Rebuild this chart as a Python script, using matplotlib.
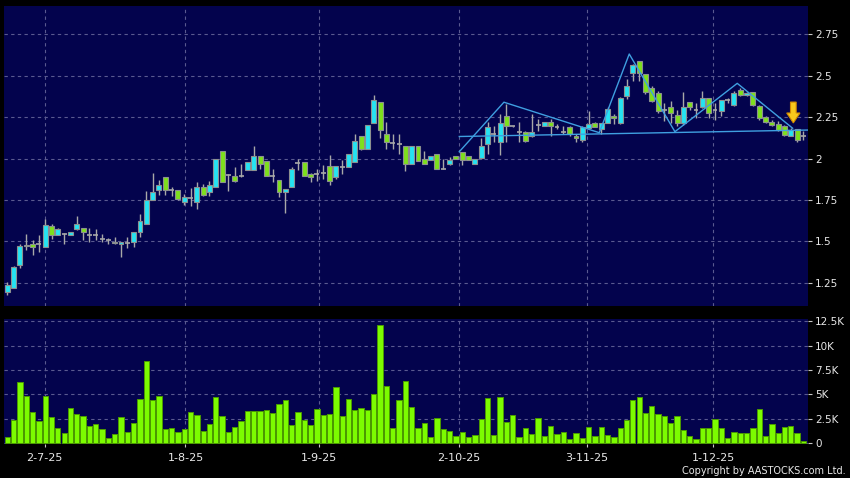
import matplotlib
matplotlib.use("Agg")
import matplotlib.pyplot as plt
from matplotlib.patches import Polygon
import numpy as np

# ---------------- data ----------------
opens = [1.196,1.220,1.357,1.470,1.486,1.485,1.468,1.591,1.542,1.546,1.540,1.573,1.579,1.540,1.542,1.516,1.512,1.498,1.486,1.488,
         1.498,1.558,1.607,1.752,1.813,1.890,1.813,1.811,1.736,1.762,1.736,1.829,1.797,1.831,2.049,1.904,1.894,1.896,1.929,1.929,
         2.014,1.986,1.894,1.874,1.797,1.831,1.976,1.980,1.909,1.909,1.915,1.953,1.892,1.949,1.951,1.980,2.134,2.061,2.213,2.341,
         2.150,2.096,2.091,2.075,1.970,2.077,2.000,1.990,2.030,1.939,1.970,2.014,2.041,2.014,1.970,2.004,2.090,2.150,2.100,2.256,
         2.196,2.164,2.164,2.134,2.204,2.200,2.224,2.194,2.164,2.190,2.136,2.110,2.184,2.214,2.180,2.216,2.260,2.216,2.376,2.520,
         2.590,2.510,2.427,2.397,2.292,2.312,2.262,2.216,2.343,2.292,2.312,2.367,2.292,2.286,2.353,2.327,2.417,2.387,2.400,2.320,
         2.250,2.222,2.210,2.196,2.139,2.180,2.139]
highs = [1.254,1.350,1.486,1.546,1.512,1.540,1.637,1.603,1.580,1.550,1.560,1.651,1.579,1.581,1.573,1.546,1.522,1.530,1.498,1.530,
         1.558,1.667,1.802,1.913,1.869,1.890,1.831,1.811,1.787,1.821,1.858,1.848,1.868,2.000,2.049,1.909,1.949,1.970,1.980,2.075,
         2.014,1.986,1.939,1.874,1.815,1.949,1.996,1.980,1.915,1.939,1.959,2.020,1.953,1.990,2.030,2.152,2.134,2.201,2.386,2.341,
         2.224,2.152,2.152,2.075,2.077,2.077,2.045,2.014,2.030,1.996,2.010,2.014,2.041,2.014,2.000,2.122,2.220,2.200,2.270,2.330,
         2.200,2.220,2.170,2.270,2.240,2.224,2.240,2.210,2.200,2.200,2.150,2.200,2.290,2.220,2.214,2.310,2.270,2.370,2.480,2.570,
         2.590,2.510,2.440,2.410,2.336,2.346,2.296,2.401,2.343,2.336,2.407,2.367,2.336,2.353,2.367,2.407,2.427,2.400,2.400,2.327,
         2.256,2.236,2.226,2.206,2.186,2.180,2.166]
lows = [1.177,1.220,1.341,1.446,1.417,1.435,1.466,1.516,1.540,1.486,1.540,1.567,1.510,1.496,1.512,1.496,1.484,1.486,1.405,1.462,
        1.466,1.526,1.607,1.752,1.780,1.780,1.776,1.750,1.720,1.715,1.695,1.776,1.776,1.831,1.858,1.807,1.858,1.888,1.929,1.929,
        1.939,1.894,1.858,1.766,1.675,1.831,1.929,1.894,1.862,1.868,1.878,1.841,1.878,1.909,1.951,1.980,2.051,2.061,2.213,2.122,
        2.061,2.061,2.030,1.923,1.970,1.988,1.970,1.990,1.939,1.939,1.959,2.000,1.959,1.990,1.970,2.000,2.030,2.100,2.020,2.100,
        2.190,2.100,2.100,2.130,2.170,2.200,2.140,2.180,2.150,2.140,2.100,2.100,2.180,2.190,2.150,2.216,2.210,2.210,2.360,2.470,
        2.470,2.390,2.340,2.275,2.226,2.216,2.196,2.206,2.296,2.246,2.306,2.246,2.236,2.256,2.337,2.321,2.377,2.380,2.317,2.236,
        2.216,2.196,2.166,2.135,2.135,2.098,2.115]
closes = [1.240,1.349,1.470,1.480,1.468,1.485,1.601,1.542,1.577,1.546,1.560,1.607,1.558,1.540,1.542,1.516,1.512,1.488,1.498,1.488,
          1.558,1.621,1.752,1.800,1.843,1.813,1.813,1.756,1.768,1.762,1.829,1.780,1.841,2.000,1.862,1.904,1.864,1.896,1.980,2.014,
          1.970,1.898,1.894,1.801,1.815,1.937,1.976,1.898,1.888,1.909,1.915,1.868,1.953,1.949,2.030,2.108,2.061,2.201,2.352,2.171,
          2.102,2.096,2.091,1.970,2.077,1.988,1.970,2.014,1.939,1.939,1.990,2.000,1.990,1.990,2.000,2.077,2.190,2.150,2.216,2.200,
          2.196,2.164,2.104,2.164,2.204,2.224,2.200,2.194,2.164,2.150,2.124,2.190,2.210,2.194,2.214,2.300,2.244,2.366,2.436,2.564,
          2.520,2.400,2.347,2.286,2.292,2.276,2.216,2.312,2.312,2.292,2.367,2.276,2.292,2.353,2.353,2.397,2.387,2.397,2.327,2.246,
          2.222,2.206,2.175,2.145,2.175,2.110,2.139]
volumes_k = [0.68,2.39,6.25,4.85,3.21,2.25,4.81,2.70,1.54,1.02,3.62,3.00,2.83,1.77,1.98,1.47,0.58,0.99,2.73,1.16,
             2.05,4.50,8.40,4.40,4.88,1.47,1.60,1.13,1.47,3.17,2.94,1.23,1.95,4.74,2.80,1.16,1.71,2.29,3.28,3.31,
             3.31,3.45,3.11,4.06,4.44,1.91,3.21,2.42,1.91,3.52,2.87,3.00,5.77,2.80,4.50,3.45,3.65,3.38,5.02,12.10,
             5.87,1.54,4.44,6.42,3.75,1.60,2.05,0.68,2.63,1.43,1.26,0.78,1.19,0.68,0.85,2.46,4.68,0.85,4.74,2.22,
             2.94,0.68,1.57,0.92,2.59,0.78,1.81,0.96,1.13,0.48,1.02,0.51,1.64,0.78,1.64,0.82,0.65,1.54,2.36,4.47,
             4.71,3.10,3.79,3.00,2.80,2.08,2.83,1.33,0.78,0.44,1.54,1.60,2.49,1.57,0.58,1.19,1.02,1.06,1.54,3.52,
             0.78,1.98,1.06,1.67,1.77,1.06,0.24]

date_labels = ["2-7-25", "1-8-25", "1-9-25", "2-10-25", "3-11-25", "1-12-25"]
date_pos = [5.9, 28.2, 49.4, 71.5, 91.7, 111.7]

price_ticks = [1.25, 1.5, 1.75, 2.0, 2.25, 2.5, 2.75]
price_labels = ["1.25", "1.5", "1.75", "2", "2.25", "2.5", "2.75"]
vol_ticks = [0, 2.5, 5, 7.5, 10, 12.5]
vol_labels = ["0", "2.5K", "5K", "7.5K", "10K", "12.5K"]

# pattern drawing (index, price)
zig_x = [71.53, 78.60, 93.69, 98.43, 105.66, 115.52, 124.29]
zig_y = [2.042, 2.341, 2.157, 2.632, 2.163, 2.455, 2.184]
neck_x = [71.53, 126.7]
neck_y = [2.134, 2.173]
arrow_x = 124.4
arrow_top, arrow_neck, arrow_tip = 2.342, 2.276, 2.216

# ---------------- style ----------------
BG = "#03034d"
GRID = "#5a5a90"
UP = "#25e3f2"
DOWN = "#7ee01c"
EDGE = "#8c9090"
DOJI = "#a8a8a8"
VOL = "#7cfc00"
VOL_EDGE = "#4c9a00"
TXT = "#e8e8e8"

plt.rcParams['font.family'] = ['DejaVu Sans']

W, H = 850, 478
fig = plt.figure(figsize=(W/100, H/100), dpi=100, facecolor="black")
ax = fig.add_axes([4/W, 1-306/H, 804/W, 300/H])
axv = fig.add_axes([4/W, 1-444/H, 804/W, 125/H], sharex=ax)

o = np.array(opens); h = np.array(highs); l = np.array(lows); c = np.array(closes)
x = np.arange(len(o))
bw = 0.78

for a in (ax, axv):
    a.set_facecolor(BG)
    for s in a.spines.values():
        s.set_visible(False)

# grid
for a in (ax, axv):
    a.set_axisbelow(True)
    a.grid(True, color=GRID, linestyle=(0, (3, 3)), linewidth=0.8)

# candles
ax.vlines(x, l, h, color=DOJI, linewidth=1.0, zorder=2)
up = c > o + 1e-9
dn = c < o - 1e-9
dj = ~(up | dn)
ax.bar(x[up], (c - o)[up], bottom=o[up], width=bw, color=UP, edgecolor=EDGE, linewidth=0.8, zorder=3)
ax.bar(x[dn], (o - c)[dn], bottom=c[dn], width=bw, color=DOWN, edgecolor=EDGE, linewidth=0.8, zorder=3)
ax.hlines(c[dj], x[dj] - bw/2, x[dj] + bw/2, color=DOJI, linewidth=1.2, zorder=3)

# pattern lines
ax.plot(zig_x, zig_y, color="#3f9fe0", linewidth=1.0, zorder=4)
ax.plot(neck_x, neck_y, color="#3f9fe0", linewidth=1.0, zorder=4)

# arrow
sw, hw = 0.45, 1.05
arrow = Polygon([(arrow_x - sw, arrow_top), (arrow_x + sw, arrow_top), (arrow_x + sw, arrow_neck),
                 (arrow_x + hw, arrow_neck), (arrow_x, arrow_tip), (arrow_x - hw, arrow_neck),
                 (arrow_x - sw, arrow_neck)], closed=True, facecolor="#f8c81c", edgecolor="#d08800",
                linewidth=0.8, zorder=5)
ax.add_patch(arrow)

ax.set_xlim(-0.52, 126.72)
ax.set_ylim(1.1105, 2.922)
ax.yaxis.tick_right()
ax.set_yticks(price_ticks)
ax.set_yticklabels(price_labels)
ax.tick_params(axis='y', colors="#c8c8c8", labelcolor=TXT, labelsize=7.5, length=3, width=0.8, pad=2)
ax.tick_params(axis='x', bottom=False, labelbottom=False)
ax.set_xticks(date_pos)

# volume
axv.bar(x, volumes_k, width=0.84, color=VOL, edgecolor=VOL_EDGE, linewidth=0.7, zorder=3)
axv.set_ylim(-0.072, 12.736)
axv.yaxis.tick_right()
axv.set_yticks(vol_ticks)
axv.set_yticklabels(vol_labels)
axv.tick_params(axis='y', colors="#c8c8c8", labelcolor=TXT, labelsize=7.5, length=3, width=0.8, pad=2)
axv.set_xticks(date_pos)
axv.set_xticklabels(date_labels)
axv.tick_params(axis='x', colors="#c8c8c8", labelcolor=TXT, labelsize=8, length=2.5, width=0.8, pad=4)

fig.text(846/W, 1-471/H, "Copyright by AASTOCKS.com Ltd.", color=TXT, fontsize=7,
         ha="right", va="center")

fig.savefig("out.png", dpi=100, facecolor="black")
